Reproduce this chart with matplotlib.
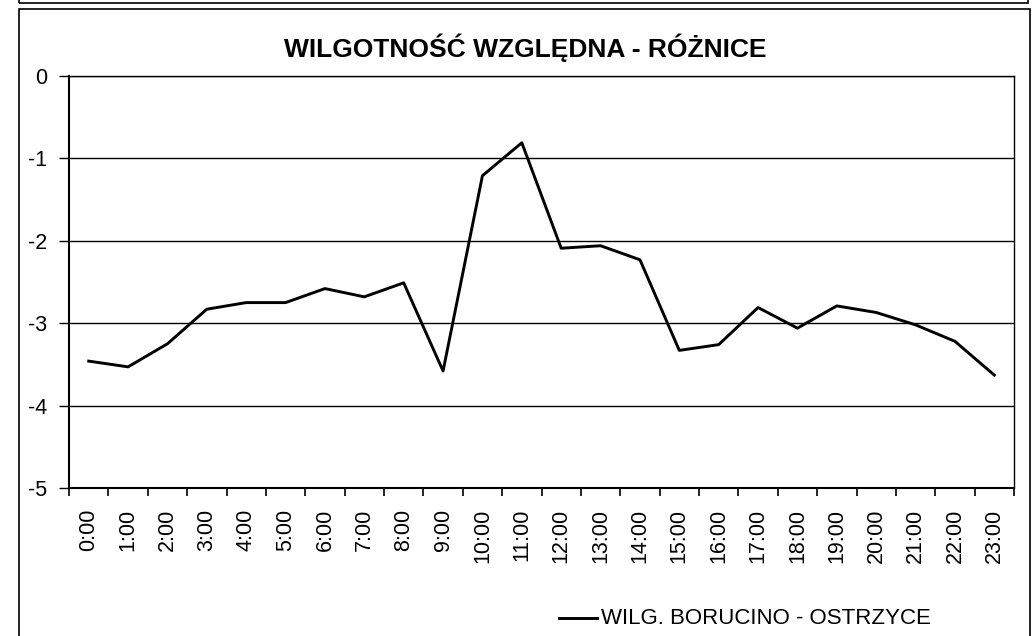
import matplotlib
matplotlib.use("Agg")
import matplotlib.pyplot as plt
from matplotlib.patches import Rectangle
from matplotlib.lines import Line2D

plt.rcParams['font.family'] = ['Liberation Sans', 'DejaVu Sans']

hours = ["0:00", "1:00", "2:00", "3:00", "4:00", "5:00", "6:00", "7:00", "8:00", "9:00",
         "10:00", "11:00", "12:00", "13:00", "14:00", "15:00", "16:00", "17:00", "18:00",
         "19:00", "20:00", "21:00", "22:00", "23:00"]
diff_values = [-3.46, -3.53, -3.25, -2.83, -2.75, -2.75, -2.58, -2.68, -2.51, -3.58,
               -1.21, -0.81, -2.09, -2.06, -2.23, -3.33, -3.26, -2.81, -3.06, -2.79,
               -2.87, -3.02, -3.22, -3.63]
y_ticks = [0, -1, -2, -3, -4, -5]
title = "WILGOTNOŚĆ WZGLĘDNA - RÓŻNICE"
series_label = "WILG. BORUCINO - OSTRZYCE"

W, H = 1036, 636
fig = plt.figure(figsize=(W / 100, H / 100), dpi=100)

def fx(px):
    return px / W

def fy(py):
    return 1 - py / H

# outer frames
fig.add_artist(Rectangle((fx(19), fy(3)), fx(1028) - fx(19), fy(-20) - fy(3),
                         transform=fig.transFigure, fill=False, edgecolor='black', lw=1.2))
fig.add_artist(Rectangle((fx(19), fy(660)), fx(1030) - fx(19), fy(9) - fy(660),
                         transform=fig.transFigure, fill=False, edgecolor='black', lw=1.2))

ax = fig.add_axes([fx(69), fy(488), fx(1014) - fx(69), fy(76) - fy(488)])
x = list(range(len(hours)))
ax.plot(x, diff_values, color='black', lw=2.1, label=series_label, zorder=3)

ax.set_xlim(-0.5, len(hours) - 0.5)
ax.set_ylim(-5, 0)
ax.set_yticks(y_ticks)
ax.set_yticklabels([str(v) for v in y_ticks], fontsize=15.5)
ax.yaxis.grid(True, color='black', lw=1.0)
ax.set_axisbelow(True)

ax.set_xticks(x)
ax.set_xticklabels(hours, rotation=90, fontsize=15.5)
ax.tick_params(axis='x', which='major', length=0, pad=15)
ax.set_xticks([i - 0.5 for i in range(len(hours) + 1)], minor=True)
ax.tick_params(axis='x', which='minor', length=6, width=1.2, direction='out')
ax.tick_params(axis='y', length=7, width=1.0, direction='out', pad=9)

for s in ['left', 'bottom']:
    ax.spines[s].set_linewidth(1.5)
for s in ['top', 'right']:
    ax.spines[s].set_linewidth(1.0)

fig.text(fx(525), fy(48), title, ha='center', va='center', fontsize=19, fontweight='bold')

# legend
fig.add_artist(Line2D([fx(559), fx(597)], [fy(618), fy(618)], color='black', lw=2.1,
                      transform=fig.transFigure))
fig.text(fx(601), fy(618), series_label, ha='left', va='center', fontsize=16)

fig.savefig("out.png", dpi=100)
